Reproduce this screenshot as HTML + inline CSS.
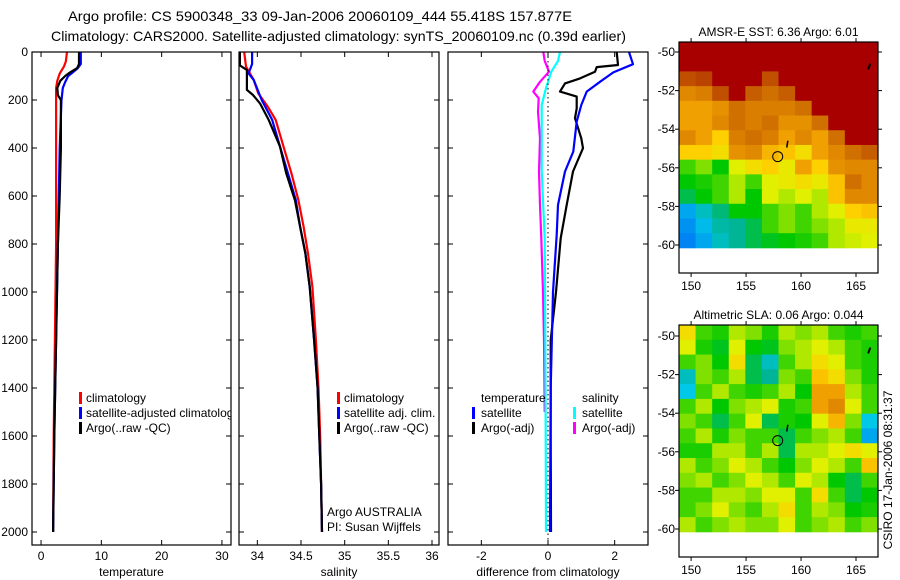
<!DOCTYPE html>
<html><head><meta charset="utf-8"><style>
body{margin:0;background:#fff;}
svg{display:block;font-family:"Liberation Sans",sans-serif;}
</style></head><body>
<svg id="fig" width="900" height="580" viewBox="0 0 900 580" xmlns="http://www.w3.org/2000/svg">
<text x="68" y="21" font-size="14" textLength="504" lengthAdjust="spacingAndGlyphs">Argo profile: CS 5900348_33 09-Jan-2006 20060109_444 55.418S 157.877E</text>
<text x="51" y="41" font-size="14" textLength="575" lengthAdjust="spacingAndGlyphs">Climatology: CARS2000. Satellite-adjusted climatology: synTS_20060109.nc (0.39d earlier)</text>
<text transform="translate(892,470) rotate(-90)" text-anchor="middle" font-size="12">CSIRO 17-Jan-2006 08:31:37</text>
<g id="root"></g>
</svg>
<script>
// ---- profile data (depth in m) ----
const tClimDepth=[0,40,60,90,120,150,300,800,1200,1600,2000];
const tClimVal=[4.3,4.1,3.8,3.1,2.7,2.5,2.5,2.5,2.3,2.1,2.0];
const tSatDepth=[0,50,67,90,100,125,150,200,400,800,1200,1600,2000];
const tSatVal=[6.6,6.6,6.1,5.0,4.5,4.0,3.6,3.4,3.1,2.8,2.5,2.2,2.0];
const tArgoDepth=[0,50,67,85,100,120,150,180,200,400,600,800,1200,1600,2000];
const tArgoVal=[6.3,6.3,6.0,4.8,4.0,3.2,2.7,2.8,3.3,3.3,3.1,2.8,2.5,2.2,2.0];
const sClimDepth=[0,61,117,172,228,283,394,505,617,728,839,978,1200,1400,1600,1800,2000];
const sClimVal=[33.85,33.87,33.96,34.01,34.12,34.21,34.30,34.39,34.47,34.53,34.58,34.63,34.67,34.70,34.72,34.73,34.74];
const sSatDepth=[0,50,89,117,200,283,394,505,617,728,839,978,1200,1400,1600,1800,2000];
const sSatVal=[33.94,33.94,33.90,33.96,34.05,34.17,34.26,34.35,34.44,34.49,34.55,34.60,34.65,34.69,34.71,34.73,34.74];
const sArgoDepth=[0,56,75,158,179,214,283,394,505,617,728,839,978,1200,1400,1600,1800,2000];
const sArgoVal=[33.80,33.80,33.88,33.88,33.95,34.03,34.13,34.26,34.33,34.43,34.49,34.55,34.60,34.65,34.69,34.71,34.73,34.74];
const dTArgoDepth=[0,54,63,82,110,131,165,186,235,276,360,401,498,637,776,1000,1200,1600,2000];
const dTArgoVal=[2.06,2.1,1.46,1.41,0.96,0.51,0.36,0.86,0.86,0.81,1.0,1.05,0.75,0.56,0.38,0.24,0.08,0.08,0.09];
const dTSatDepth=[0,51,85,124,165,221,290,415,498,637,762,1000,1400,2000];
const dTSatVal=[2.43,2.55,1.96,1.56,1.16,1.0,0.86,0.76,0.51,0.3,0.26,0.15,0.08,0.06];
const dSSatDepth=[0,37,82,151,221,360,498,776,1200,1600,2000];
const dSSatVal=[0.36,0.3,0.1,-0.06,-0.19,-0.19,-0.19,-0.1,-0.08,-0.07,-0.06];
const dSArgoDepth=[0,37,82,124,165,193,249,360,498,637,776,1000,1200,1500];
const dSArgoVal=[-0.14,-0.1,0.03,-0.24,-0.44,-0.28,-0.3,-0.24,-0.27,-0.24,-0.2,-0.15,-0.12,-0.1];
const depthTicks=[0,200,400,600,800,1000,1200,1400,1600,1800,2000];
const tTicks=[0,10,20,30];
const sTicks=[34,34.5,35,35.5,36];
const dTicks=[-2,0,2];
// ---- map data (rows -50 -> -60, cols 149 -> 167), normalized colour value ----
const sstGrid=[
[1,1,1,1,1,1,1,1,1,1,1,1],
[1,1,1,1,1,1,1,1,1,1,1,1],
[0.9,0.92,1,1,1,0.9,1,1,1,1,1,1],
[0.8,0.82,0.9,1,0.88,0.85,0.88,1,1,1,1,1],
[0.75,0.75,0.78,0.85,0.82,0.82,0.82,0.85,1,1,1,1],
[0.75,0.75,0.8,0.85,0.82,0.85,0.78,0.78,0.85,1,1,1],
[0.8,0.75,0.68,0.82,0.85,0.82,0.75,0.8,0.75,0.85,1,1],
[0.68,0.68,0.65,0.78,0.8,0.72,0.7,0.65,0.75,0.8,0.85,0.88],
[0.45,0.5,0.4,0.6,0.65,0.68,0.62,0.75,0.68,0.78,0.8,0.8],
[0.4,0.42,0.45,0.55,0.45,0.6,0.62,0.65,0.62,0.7,0.85,0.8],
[0.35,0.4,0.45,0.55,0.4,0.6,0.55,0.6,0.55,0.7,0.8,0.8],
[0.15,0.25,0.32,0.4,0.4,0.45,0.5,0.45,0.55,0.6,0.68,0.7],
[0.12,0.18,0.28,0.3,0.35,0.45,0.5,0.45,0.5,0.55,0.62,0.62],
[0.1,0.15,0.25,0.3,0.35,0.38,0.4,0.42,0.45,0.55,0.58,0.6]];
const slaGrid=[
[0.65,0.45,0.42,0.55,0.5,0.42,0.55,0.5,0.55,0.45,0.42,0.45],
[0.6,0.42,0.38,0.6,0.4,0.38,0.5,0.55,0.6,0.55,0.45,0.42],
[0.45,0.5,0.4,0.65,0.35,0.25,0.45,0.55,0.65,0.6,0.45,0.42],
[0.25,0.5,0.45,0.55,0.35,0.3,0.5,0.45,0.7,0.65,0.5,0.42],
[0.2,0.45,0.55,0.45,0.42,0.45,0.55,0.4,0.75,0.75,0.55,0.45],
[0.45,0.55,0.4,0.5,0.55,0.6,0.42,0.45,0.75,0.8,0.6,0.45],
[0.5,0.45,0.35,0.45,0.6,0.35,0.42,0.4,0.6,0.72,0.5,0.2],
[0.45,0.55,0.42,0.5,0.45,0.45,0.35,0.45,0.5,0.55,0.45,0.15],
[0.42,0.42,0.55,0.55,0.45,0.55,0.35,0.55,0.55,0.6,0.65,0.6],
[0.55,0.45,0.5,0.6,0.55,0.45,0.4,0.5,0.6,0.55,0.45,0.7],
[0.5,0.55,0.45,0.5,0.6,0.55,0.45,0.6,0.55,0.4,0.35,0.45],
[0.45,0.45,0.55,0.55,0.5,0.6,0.6,0.45,0.65,0.45,0.35,0.4],
[0.45,0.5,0.6,0.5,0.45,0.55,0.65,0.45,0.55,0.5,0.4,0.42],
[0.55,0.45,0.5,0.55,0.5,0.5,0.6,0.45,0.5,0.55,0.45,0.5]];
const latTicks=[-50,-52,-54,-56,-58,-60];
const lonTicks=[150,155,160,165];
const floatLon=157.877, floatLat=-55.418;

const NS='http://www.w3.org/2000/svg';
const root=document.getElementById('root');
function mk(tag,attrs,parent){const e=document.createElementNS(NS,tag);for(const k in attrs)e.setAttribute(k,attrs[k]);(parent||root).appendChild(e);return e;}
function txt(s,attrs,parent){const e=mk('text',attrs,parent);e.textContent=s;return e;}

const yD=d=>52+d*0.24;
const PB=545;
function panel(name,x0,x1,vmin,vmax,ticks,label,series,tickFmt){
  const xs=v=>x0+(v-vmin)/(vmax-vmin)*(x1-x0);
  const g=mk('g',{});
  
  
  const cp=mk('clipPath',{id:'cp-'+name},g);
  mk('rect',{x:x0,y:52,width:x1-x0,height:PB-52},cp);
  const inner=mk('g',{'clip-path':'url(#cp-'+name+')'},g);
  series.forEach(s=>{
    const pts=s.d.map((d,i)=>xs(s.v[i]).toFixed(1)+','+yD(d).toFixed(1)).join(' ');
    const pl=mk('polyline',{points:pts,fill:'none',stroke:s.c,'stroke-width':2.2,'stroke-linejoin':'round'},inner);
    
    
  });
  mk('rect',{x:x0,y:52,width:x1-x0,height:PB-52,fill:'none',stroke:'#000','stroke-width':1.2},g);
  depthTicks.forEach(d=>{
    mk('line',{x1:x0,x2:x0+5,y1:yD(d),y2:yD(d),stroke:'#000'},g);
    mk('line',{x1:x1-5,x2:x1,y1:yD(d),y2:yD(d),stroke:'#000'},g);
  });
  ticks.forEach(t=>{
    const x=xs(t);
    mk('line',{x1:x,x2:x,y1:52,y2:57,stroke:'#000'},g);
    mk('line',{x1:x,x2:x,y1:PB-5,y2:PB,stroke:'#000'},g);
    const tl=txt(tickFmt(t),{x:x,y:560,'text-anchor':'middle','font-size':12},g);
    
    
  });
  const al=txt(label,{x:(x0+x1)/2,y:576,'text-anchor':'middle','font-size':12},g);
  
  
  return {g,inner,xs};
}
depthTicks.forEach(d=>{
  const t=txt(String(d),{x:28,y:yD(d)+4,'text-anchor':'end','font-size':12});
  
  
});
const p1=panel('temperature',32,231,-1.5,31.5,tTicks,'temperature',[
 {n:'temp-climatology-line',c:'#ff0000',d:tClimDepth,v:tClimVal},
 {n:'temp-satellite-line',c:'#0000ff',d:tSatDepth,v:tSatVal},
 {n:'temp-argo-line',c:'#000',d:tArgoDepth,v:tArgoVal}],t=>String(t));
const p2=panel('salinity',239,439,33.79,36.08,sTicks,'salinity',[
 {n:'sal-climatology-line',c:'#ff0000',d:sClimDepth,v:sClimVal},
 {n:'sal-satellite-line',c:'#0000ff',d:sSatDepth,v:sSatVal},
 {n:'sal-argo-line',c:'#000',d:sArgoDepth,v:sArgoVal}],t=>String(t));
const p3=panel('difference',448,648,-3,3,dTicks,'difference from climatology',[
 {n:'diff-sal-argo-line',c:'#ff00ff',d:dSArgoDepth,v:dSArgoVal},
 {n:'diff-sal-satellite-line',c:'#00ffff',d:dSSatDepth,v:dSSatVal},
 {n:'diff-temp-argo-line',c:'#000',d:dTArgoDepth,v:dTArgoVal},
 {n:'diff-temp-satellite-line',c:'#0000ff',d:dTSatDepth,v:dTSatVal}],t=>String(t));
const zl=mk('line',{x1:p3.xs(0),x2:p3.xs(0),y1:52,y2:PB,stroke:'#000','stroke-dasharray':'1.5,3'},p3.inner);



function legend(parent,items,bx,tx,y0){
  items.forEach((it,i)=>{
    const y=y0+i*15;
    if(it.c){const b=mk('rect',{x:bx,y:y-10,width:3,height:12,fill:it.c},parent);
      
      }
    const t=txt(it.t,{x:tx,y:y,'font-size':12},parent);
    
    
  });
}
legend(p1.inner,[{c:'#ff0000',t:'climatology'},{c:'#0000ff',t:'satellite-adjusted climatology'},{c:'#000',t:'Argo(..raw -QC)'}],79,86,402);
legend(p2.inner,[{c:'#ff0000',t:'climatology'},{c:'#0000ff',t:'satellite adj. clim.'},{c:'#000',t:'Argo(..raw -QC)'}],337,344,402);
legend(p3.inner,[{t:'temperature'},{c:'#0000ff',t:'satellite'},{c:'#000',t:'Argo(-adj)'}],472,481,402);
legend(p3.inner,[{t:'salinity'},{c:'#00ffff',t:'satellite'},{c:'#ff00ff',t:'Argo(-adj)'}],573,582,402);
const n1=txt('Argo AUSTRALIA',{x:327,y:516,'font-size':12},p2.inner);


const n2=txt('PI: Susan Wijffels',{x:327,y:531,'font-size':12},p2.inner);



const stops=[[0,[0,64,255]],[0.2,[0,200,232]],[0.3,[0,180,150]],[0.4,[0,200,0]],[0.5,[128,224,0]],[0.6,[224,240,0]],[0.68,[255,208,0]],[0.75,[240,160,0]],[0.85,[208,112,0]],[0.95,[176,48,0]],[1,[168,0,0]]];
function cmap(v){
  for(let i=1;i<stops.length;i++){if(v<=stops[i][0]){const a=stops[i-1],b=stops[i];const f=(v-a[0])/(b[0]-a[0]);
    return 'rgb('+a[1].map((c,k)=>Math.round(c+(b[1][k]-c)*f)).join(',')+')';}}
  return 'rgb(168,0,0)';
}
function drawMap(name,title,grid,boxTop,lat50y,lat60y,boxBot){
  const x0=679,x1=878,lonMin=148.9,lonMax=167.0;
  const lonX=l=>x0+(l-lonMin)/(lonMax-lonMin)*(x1-x0);
  const latY=l=>lat50y+(-50-l)/10*(lat60y-lat50y);
  const topLat=-50+(lat50y-boxTop)/(lat60y-lat50y)*10, botLat=-60.15;
  const g=mk('g',{});
  
  
  const nr=grid.length,nc=grid[0].length;
  const dLat=(topLat-botLat)/nr,dLon=(lonMax-lonMin)/nc;
  grid.forEach((row,r)=>row.forEach((v,c)=>{
    const xa=lonX(lonMin+c*dLon),xb=lonX(lonMin+(c+1)*dLon);
    const ya=latY(topLat-r*dLat),yb=latY(topLat-(r+1)*dLat);
    const cell=mk('rect',{x:xa.toFixed(2),y:ya.toFixed(2),width:(xb-xa+0.4).toFixed(2),height:(yb-ya+0.4).toFixed(2),fill:cmap(v)},g);
    
    
  }));
  mk('rect',{x:x0,y:boxTop,width:x1-x0,height:boxBot-boxTop,fill:'none',stroke:'#000','stroke-width':1.2},g);
  latTicks.forEach(l=>{
    const y=latY(l);
    mk('line',{x1:x0-4,x2:x0,y1:y,y2:y,stroke:'#000'},g);
    mk('line',{x1:x1,x2:x1+4,y1:y,y2:y,stroke:'#000'},g);
    const t=txt(String(l),{x:x0-4,y:y+4,'text-anchor':'end','font-size':12},g);
    
    
  });
  lonTicks.forEach(l=>{
    const x=lonX(l);
    mk('line',{x1:x,x2:x,y1:boxTop-4,y2:boxTop,stroke:'#000'},g);
    mk('line',{x1:x,x2:x,y1:boxBot,y2:boxBot+4,stroke:'#000'},g);
    const t=txt(String(l),{x:x,y:boxBot+17,'text-anchor':'middle','font-size':12},g);
    
    
  });
  const tt=txt(title,{x:(x0+x1)/2,y:boxTop-6,'text-anchor':'middle','font-size':12},g);
  
  
  const fc=mk('circle',{cx:lonX(floatLon),cy:latY(floatLat),r:5,fill:'none',stroke:'#000','stroke-width':1},g);
  
  
  mk('line',{x1:lonX(158.8),y1:latY(-54.6),x2:lonX(158.7),y2:latY(-54.95),stroke:'#000','stroke-width':1.5},g);
  mk('line',{x1:lonX(166.3),y1:latY(-50.6),x2:lonX(166.1),y2:latY(-50.9),stroke:'#000','stroke-width':2},g);
}
drawMap('sst-map','AMSR-E SST: 6.36 Argo: 6.01',sstGrid,42,52,245,273);
drawMap('sla-map','Altimetric SLA: 0.06 Argo: 0.044',slaGrid,325,336,529,557);
</script>
</body></html>
